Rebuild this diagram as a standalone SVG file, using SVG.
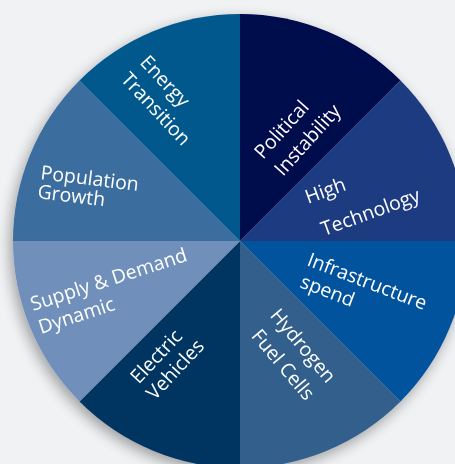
<svg xmlns="http://www.w3.org/2000/svg" width="455" height="464" viewBox="0 0 455 464">
<defs>
<style>
.lbl{font-family:"Open Sans","DejaVu Sans",sans-serif;font-size:19.5px;fill:#ffffff;}
</style>
<filter id="sh" x="-20%" y="-20%" width="140%" height="140%">
<feGaussianBlur in="SourceAlpha" stdDeviation="7"/>
<feOffset dx="-3" dy="5" result="b"/>
<feComponentTransfer><feFuncA type="linear" slope="0.35"/></feComponentTransfer>
<feMerge><feMergeNode/><feMergeNode in="SourceGraphic"/></feMerge>
</filter>
</defs>
<rect width="455" height="464" fill="#f1f2f4"/>
<g id="pie" filter="url(#sh)">
<g id="political"><path d="M240,241 L240,14 A227,227 0 0 1 400.5,80.5 Z" fill="#04074d"/>
<text class="lbl" transform="translate(263,160) rotate(-48)">Political</text>
<text class="lbl" transform="translate(283,177) rotate(-48)">Instability</text></g>
<g id="hightech"><path d="M240,241 L400.5,80.5 A227,227 0 0 1 467,241 Z" fill="#1b3a80"/>
<text class="lbl" transform="translate(308,204) rotate(-20)">High</text>
<text class="lbl" transform="translate(324,236) rotate(-20)">Technology</text></g>
<g id="infra"><path d="M240,241 L467,241 A227,227 0 0 1 400.5,401.5 Z" fill="#02529c"/>
<text class="lbl" transform="translate(306,265) rotate(21)">Infrastructure</text>
<text class="lbl" transform="translate(299,287) rotate(21)">spend</text></g>
<g id="hydrogen"><path d="M240,241 L400.5,401.5 A227,227 0 0 1 240,468 Z" fill="#325f8b"/>
<text class="lbl" text-anchor="middle" transform="translate(298,350) rotate(50)">Hydrogen</text>
<text class="lbl" text-anchor="middle" transform="translate(278,369) rotate(50)">Fuel Cells</text></g>
<g id="ev"><path d="M240,241 L240,468 A227,227 0 0 1 79.5,401.5 Z" fill="#003462"/>
<text class="lbl" text-anchor="middle" transform="translate(161,361) rotate(-47)">Electric</text>
<text class="lbl" text-anchor="middle" transform="translate(180,374) rotate(-47)">Vehicles</text></g>
<g id="supply"><path d="M240,241 L79.5,401.5 A227,227 0 0 1 13,241 Z" fill="#7090bb"/>
<text class="lbl" transform="translate(33,311) rotate(-18)">Supply &amp; Demand</text>
<text class="lbl" transform="translate(41,334) rotate(-18)">Dynamic</text></g>
<g id="population"><path d="M240,241 L13,241 A227,227 0 0 1 79.5,80.5 Z" fill="#3b6e9f"/>
<text class="lbl" transform="translate(40,179) rotate(7)">Population</text>
<text class="lbl" transform="translate(37,198) rotate(7)">Growth</text></g>
<g id="energy"><path d="M240,241 L79.5,80.5 A227,227 0 0 1 240,14 Z" fill="#03598d"/>
<text class="lbl" transform="translate(139,63) rotate(47)">Energy</text>
<text class="lbl" transform="translate(120,80) rotate(47)">Transition</text></g>
</g>
<g id="connectors"/>
</svg>
